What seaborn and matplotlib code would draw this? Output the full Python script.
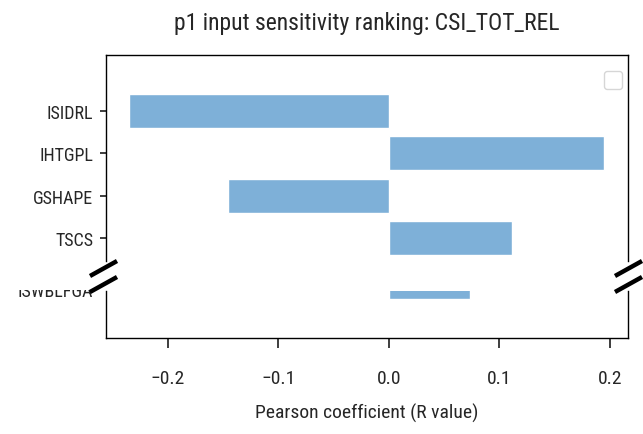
import matplotlib
matplotlib.use("Agg")
import matplotlib.pyplot as plt
from matplotlib.lines import Line2D
from matplotlib.transforms import Bbox, TransformedBbox, ScaledTranslation, blended_transform_factory
import pandas as pd
import seaborn as sns


TITLE = "p1 input sensitivity ranking: CSI_TOT_REL"
XLABEL = "Pearson coefficient (R value)"
INPUTS = ["ISIDRL", "IHTGPL", "GSHAPE", "TSCS", "ISWBLFGA"]
R_VALUES = [-0.235, 0.195, -0.146, 0.111, 0.073]
XTICKS = [-0.2, -0.1, 0.0, 0.1, 0.2]

BAR_COLOR = "#7eb0d8"
W, H = 643, 435


def fx(px):
    return px / W


def fy(py):
    return 1 - py / H


def setup_style():
    sns.set_theme(
        style="ticks",
        rc={
            "axes.edgecolor": "black",
            "axes.linewidth": 1.0,
            "xtick.major.size": 7,
            "xtick.major.pad": 15,
            "ytick.major.size": 4.3,
            "ytick.major.pad": 5,
            "xtick.labelsize": 14,
            "ytick.labelsize": 13,
            "axes.labelsize": 14,
            "axes.titlesize": 17,
        },
    )
    plt.rcParams["font.family"] = ["Roboto Condensed", "Liberation Sans Narrow", "DejaVu Sans"]


def main():
    setup_style()
    df = pd.DataFrame({"Input": INPUTS, "R": R_VALUES})

    fig = plt.figure(figsize=(W / 100, H / 100), dpi=100)
    ax_top = fig.add_axes([fx(106), fy(262), fx(628) - fx(106), (262 - 56) / H])
    ax_bot = fig.add_axes([fx(106), fy(339), fx(628) - fx(106), (339 - 292) / H])

    for ax in (ax_top, ax_bot):
        sns.barplot(data=df, x="R", y="Input", orient="h", color=BAR_COLOR,
                    saturation=1, width=0.8, ax=ax)
        ax.set_xlim(-0.2561, 0.2163)
        ax.set_ylabel("")

    # same scale, two windows of the category axis
    ax_top.set_ylim(3.543, -1.323)
    ax_bot.set_ylim(5.31, 4.2)

    ax_top.set_yticks(range(4), INPUTS[:4])
    ax_top.spines["bottom"].set_visible(False)
    ax_top.tick_params(axis="x", which="both", bottom=False, labelbottom=False)
    ax_top.set_xlabel("")
    ax_top.set_title(TITLE, pad=19)
    ax_top.legend(handles=[], loc="upper right", borderpad=0.6, borderaxespad=0,
                  bbox_to_anchor=(1 - 6 / 522, 1 - 16 / 206))

    ax_bot.spines["top"].set_visible(False)
    ax_bot.set_yticks([])
    ax_bot.set_xticks(XTICKS, [f"{t:.1f}".replace("-", "\u2212") for t in XTICKS])
    ax_bot.set_xlabel(XLABEL, labelpad=12)

    # label of the last input, cut off by the break like in the source
    tr = blended_transform_factory(ax_bot.transAxes, ax_bot.transData) + \
        ScaledTranslation(-9.4 / 72, 0, fig.dpi_scale_trans)
    lab = ax_bot.text(0, 4.19, INPUTS[4], transform=tr, ha="right", va="center",
                      fontsize=13, clip_on=True)
    lab.set_clip_box(TransformedBbox(Bbox.from_extents(0, 0, 1, fy(291)), fig.transFigure))

    # broken-axis marks
    for x0 in (90, 615):
        for y0 in (277, 293):
            fig.add_artist(Line2D([fx(x0), fx(x0 + 27)], [fy(y0), fy(y0 - 15)],
                                  transform=fig.transFigure, color="black",
                                  lw=3.2, solid_capstyle="butt"))

    fig.savefig("out.png", dpi=100)
    plt.close(fig)


if __name__ == "__main__":
    main()
